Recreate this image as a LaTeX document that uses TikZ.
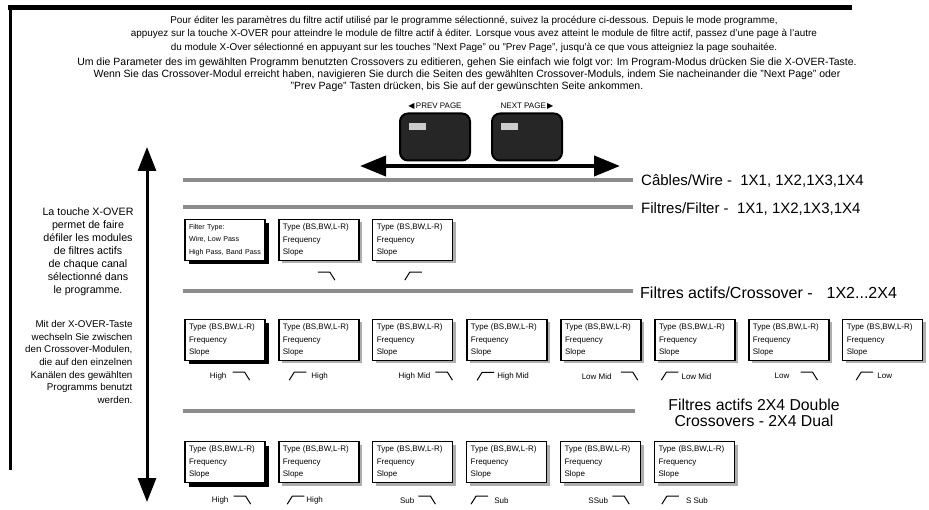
\documentclass[tikz,border=0pt]{standalone}
\usepackage{fontspec}
\setmainfont{Liberation Sans}
\newfontfamily\symfont{DejaVu Sans}
\usepackage{tikz}
\usetikzlibrary{positioning,arrows.meta,shadows}

\begin{document}
\begin{tikzpicture}[
  x=1pt, y=-1pt,
  node distance=12.6pt,
  boxbase/.style={draw, line width=1.3pt, fill=white, minimum width=80pt,
              minimum height=41pt, text width=72pt, align=left,
              inner xsep=4pt, font=\fontsize{8}{12.5}\selectfont},
  box/.style={boxbase, drop shadow={shadow xshift=3pt, shadow yshift=-3pt,
              fill=black!45, opacity=.7}},
  boxfirst/.style={boxbase, drop shadow={shadow xshift=4pt, shadow yshift=-4pt,
              fill=black, opacity=1}},
  rail/.style={line width=4.5pt, black!45},
  biglbl/.style={anchor=west, inner sep=0pt, font=\fontsize{15}{16}\selectfont},
  lbl/.style={inner sep=0pt, font=\fontsize{8}{9}\selectfont},
  btn/.style={draw, line width=2pt, fill=black!85, rounded corners=8pt,
              minimum width=70pt, minimum height=47pt},
  led/.style={fill=black!20, minimum width=17pt, minimum height=7pt,
              inner sep=0pt, anchor=north west},
  bigarr/.style={{Triangle[length=26pt,width=20pt]}-{Triangle[length=26pt,width=20pt]},
              line width=4pt},
  fall/.pic={\draw[line width=1pt] (0,0) -- (12,0) -- (17,8);},
  rise/.pic={\draw[line width=1pt] (0,8) -- (5,0) -- (17,0);}
]
\useasboundingbox (0,0) rectangle (929,510);

% frame
\draw[line width=5pt] (8,8) -- (852,8);
\draw[line width=3pt] (10,8) -- (10,470);

% instructions
\node[align=center, font=\fontsize{9.9}{13.5}\selectfont] (txtfr) at (474,34)
  {Pour éditer les paramètres du filtre actif utilisé par le programme sélectionné, suivez la procédure ci-dessous. Depuis le mode programme,\\
   appuyez sur la touche X-OVER pour atteindre le module de filtre actif à éditer. Lorsque vous avez atteint le module de filtre actif, passez d'une page à l'autre\\
   du module X-Over sélectionné en appuyant sur les touches "Next Page" ou "Prev Page", jusqu'à ce que vous atteigniez la page souhaitée.};
\node[align=center, font=\fontsize{10.5}{12}\selectfont] (txtde) at (467,75)
  {Um die Parameter des im gewählten Programm benutzten Crossovers zu editieren, gehen Sie einfach wie folgt vor: Im Program-Modus drücken Sie die X-OVER-Taste.\\
   Wenn Sie das Crossover-Modul erreicht haben, navigieren Sie durch die Seiten des gewählten Crossover-Moduls, indem Sie nacheinander die "Next Page" oder\\
   "Prev Page" Tasten drücken, bis Sie auf der gewünschten Seite ankommen.};

% page buttons
\node[btn] (prevbtn) at (435,137) {};
\node[btn] (nextbtn) at (527,137) {};
\node[led] (prevled) at ([xshift=10pt,yshift=-10pt]prevbtn.north west) {};
\node[led] (nextled) at ([xshift=10pt,yshift=-10pt]nextbtn.north west) {};
\node[above=2pt of prevbtn, font=\fontsize{8}{8}\selectfont, inner sep=1pt] (prevlbl)
  {{\symfont ◀}\,PREV PAGE};
\node[above=2pt of nextbtn, font=\fontsize{8}{8}\selectfont, inner sep=1pt] (nextlbl)
  {NEXT PAGE\,{\symfont ▶}};
\coordinate (pgl) at (360,166);
\coordinate (pgr) at (620,166);
\draw[bigarr] (pgl) -- (pgr);

% vertical x-over arrow
\coordinate (xtop) at (147,147);
\coordinate (xbot) at (147,502);
\draw[{Triangle[length=24pt,width=18pt]}-{Triangle[length=24pt,width=18pt]}, line width=3pt]
  (xtop) -- (xbot);

\node[align=center, font=\fontsize{10.7}{13}\selectfont] (notefr) at (88,252)
  {La touche X-OVER\\permet de faire\\défiler les modules\\de filtres actifs\\de chaque canal\\sélectionné dans\\le programme.};
\node[align=right, anchor=east, font=\fontsize{9.8}{12.7}\selectfont] (notede) at (136,362)
  {Mit der X-OVER-Taste\\wechseln Sie zwischen\\den Crossover-Modulen,\\die auf den einzelnen\\Kanälen des gewählten\\Programms benutzt\\werden.};

% rails
\draw[rail] (183,180) -- (633,180);
\draw[rail] (183,207) -- (633,207);
\draw[rail] (183,291) -- (633,291);
\draw[rail] (183,411) -- (635,411);
\node[biglbl] (wire) at (641,181) {Câbles/Wire -\ \ 1X1, 1X2,1X3,1X4};
\node[biglbl] (filter) at (641,209) {Filtres/Filter -\ \ 1X1, 1X2,1X3,1X4};
\node[biglbl, font=\fontsize{16}{16}\selectfont] (xover) at (640,293)
  {Filtres actifs/Crossover -\hspace{14pt}1X2...2X4};
\node[align=center, inner sep=0pt, font=\fontsize{15.8}{16}\selectfont] (dual) at (754,413)
  {Filtres actifs 2X4 Double\\Crossovers - 2X4 Dual};

% filter row
\node[boxfirst, font=\fontsize{7.1}{12.5}\selectfont] (fx1) at (225,240)
  {Filter Type:\\Wire, Low Pass\\High Pass, Band Pass};
\node[box, right=of fx1] (fx2) {Type (BS,BW,L-R)\\Frequency\\Slope};
\node[box, right=of fx2] (fx3) {Type (BS,BW,L-R)\\Frequency\\Slope};
\pic at ([xshift=-1pt,yshift=-11pt]fx2.south) {fall};
\pic at ([xshift=-8pt,yshift=-11pt]fx3.south) {rise};

% crossover row
\node[boxfirst] (cx1) at (225,340) {Type (BS,BW,L-R)\\Frequency\\Slope};
\node[box, right=of cx1] (cx2) {Type (BS,BW,L-R)\\Frequency\\Slope};
\node[box, right=of cx2] (cx3) {Type (BS,BW,L-R)\\Frequency\\Slope};
\node[box, right=of cx3, line width=1.8pt] (cx4) {Type (BS,BW,L-R)\\Frequency\\Slope};
\node[box, right=of cx4] (cx5) {Type (BS,BW,L-R)\\Frequency\\Slope};
\node[box, right=of cx5] (cx6) {Type (BS,BW,L-R)\\Frequency\\Slope};
\node[box, right=of cx6] (cx7) {Type (BS,BW,L-R)\\Frequency\\Slope};
\node[box, right=of cx7] (cx8) {Type (BS,BW,L-R)\\Frequency\\Slope};

\pic at ([xshift=-33pt,yshift=-11pt]cx1.south east) {fall};
\node[lbl, anchor=east] (cx1lbl) at ([xshift=-39pt,yshift=-15pt]cx1.south east) {High};
\pic at ([xshift=11pt,yshift=-11pt]cx2.south west) {rise};
\node[lbl, anchor=west] (cx2lbl) at ([xshift=33pt,yshift=-15pt]cx2.south west) {High};
\pic at ([xshift=-18pt,yshift=-11pt]cx3.south east) {fall};
\node[lbl, anchor=east] (cx3lbl) at ([xshift=-23pt,yshift=-15pt]cx3.south east) {High Mid};
\pic at ([xshift=11pt,yshift=-11pt]cx4.south west) {rise};
\node[lbl, anchor=west] (cx4lbl) at ([xshift=31pt,yshift=-15pt]cx4.south west) {High Mid};
\pic at ([xshift=-21pt,yshift=-11pt]cx5.south east) {fall};
\node[lbl, anchor=east] (cx5lbl) at ([xshift=-30pt,yshift=-15pt]cx5.south east) {Low Mid};
\pic at ([xshift=7pt,yshift=-11pt]cx6.south west) {rise};
\node[lbl, anchor=west] (cx6lbl) at ([xshift=27pt,yshift=-15pt]cx6.south west) {Low Mid};
\pic at ([xshift=-29pt,yshift=-11pt]cx7.south east) {fall};
\node[lbl, anchor=east] (cx7lbl) at ([xshift=-40pt,yshift=-15pt]cx7.south east) {Low};
\pic at ([xshift=14pt,yshift=-11pt]cx8.south west) {rise};
\node[lbl, anchor=west] (cx8lbl) at ([xshift=35pt,yshift=-15pt]cx8.south west) {Low};

% dual row
\node[boxfirst] (dx1) at (225,462) {Type (BS,BW,L-R)\\Frequency\\Slope};
\node[box, right=of dx1] (dx2) {Type (BS,BW,L-R)\\Frequency\\Slope};
\node[box, right=of dx2] (dx3) {Type (BS,BW,L-R)\\Frequency\\Slope};
\node[box, right=of dx3] (dx4) {Type (BS,BW,L-R)\\Frequency\\Slope};
\node[box, right=of dx4] (dx5) {Type (BS,BW,L-R)\\Frequency\\Slope};
\node[box, right=of dx5] (dx6) {Type (BS,BW,L-R)\\Frequency\\Slope};

\pic at ([xshift=-32pt,yshift=-13pt]dx1.south east) {fall};
\node[lbl, anchor=east] (dx1lbl) at ([xshift=-37pt,yshift=-17pt]dx1.south east) {High};
\pic at ([xshift=9pt,yshift=-13pt]dx2.south west) {rise};
\node[lbl, anchor=west] (dx2lbl) at ([xshift=28pt,yshift=-17pt]dx2.south west) {High};
\pic at ([xshift=-35pt,yshift=-13pt]dx3.south east) {fall};
\node[lbl, anchor=east] (dx3lbl) at ([xshift=-39pt,yshift=-17pt]dx3.south east) {Sub};
\pic at ([xshift=5pt,yshift=-13pt]dx4.south west) {rise};
\node[lbl, anchor=west] (dx4lbl) at ([xshift=28pt,yshift=-17pt]dx4.south west) {Sub};
\pic at ([xshift=-29pt,yshift=-13pt]dx5.south east) {fall};
\node[lbl, anchor=east] (dx5lbl) at ([xshift=-33pt,yshift=-17pt]dx5.south east) {SSub};
\pic at ([xshift=8pt,yshift=-13pt]dx6.south west) {rise};
\node[lbl, anchor=west] (dx6lbl) at ([xshift=32pt,yshift=-17pt]dx6.south west) {S Sub};
\end{tikzpicture}
\end{document}
